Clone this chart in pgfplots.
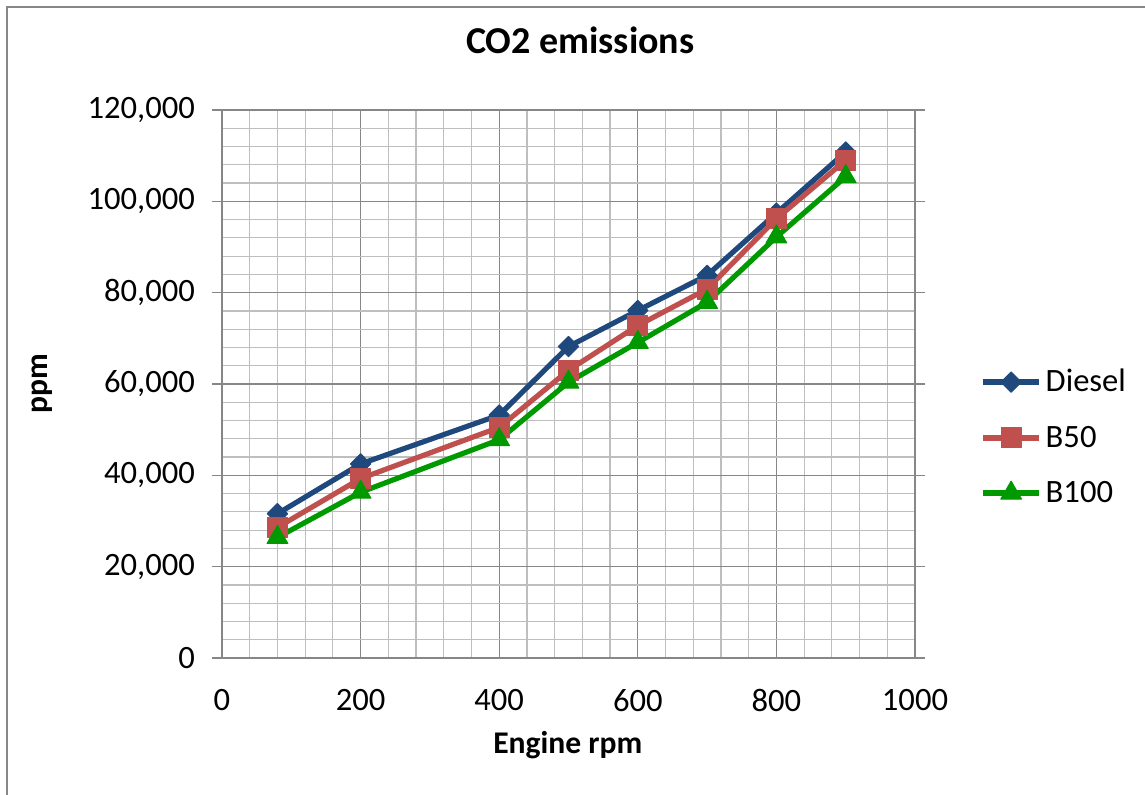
\documentclass[border=0pt]{standalone}
\usepackage{pgfplots}
\pgfplotsset{compat=1.18}
\usepackage{fontspec}
\setmainfont{Carlito}
\definecolor{dieselc}{HTML}{1F497D}
\definecolor{b50c}{HTML}{C0504D}
\definecolor{b100c}{HTML}{009900}
\definecolor{majgrid}{HTML}{878787}
\definecolor{mingrid}{HTML}{BEBEBE}
\begin{document}
\begin{tikzpicture}
\begin{axis}[
  at={(0,0)}, anchor=south west,
  scale only axis, width=346.5pt, height=274pt,
  xmin=0, xmax=1000, ymin=0, ymax=120000,
  xtick={0,200,400,600,800,1000}, ytick={0,20000,40000,60000,80000,100000,120000},
  xticklabels={0,200,400,600,800,1000},
  yticklabels={0,{20,000},{40,000},{60,000},{80,000},{100,000},{120,000}},
  minor x tick num=4, minor y tick num=4,
  grid=both,
  major grid style={color=majgrid, line width=0.6pt},
  minor grid style={color=mingrid, line width=0.6pt},
  axis line style={color=majgrid, line width=0.6pt},
  tick align=outside,
  xtick style={draw=none},
  ytick style={color=majgrid, line width=0.6pt},
  major tick length=5pt, minor tick length=0pt,
  scaled y ticks=false,
  yticklabel style={font=\fontsize{16.3}{19}\selectfont, xshift=-5pt},
  xticklabel style={font=\fontsize{16.3}{19}\selectfont, yshift=-7pt},
  title={CO2 emissions},
  title style={at={(axis description cs:0.517,1.106)}, anchor=center, font=\fontsize{19}{22}\selectfont\bfseries},
  xlabel={Engine rpm},
  xlabel style={at={(axis description cs:0.499,-0.1588)}, anchor=center, font=\fontsize{15.8}{18}\selectfont\bfseries},
  ylabel={ppm},
  ylabel style={at={(axis description cs:-0.2597,0.5)}, anchor=center, rotate=0, font=\fontsize{15.8}{18}\selectfont\bfseries},
  legend style={at={(axis description cs:1.094,0.535)}, anchor=north west, draw=none, fill=none,
    font=\fontsize{16.3}{19}\selectfont, row sep=11.5pt, inner sep=0pt},
  legend cell align=left,
  legend image code/.code={\draw[mark repeat=2,mark phase=2] plot coordinates {(0pt,0pt) (14pt,0pt) (28pt,0pt)};},
  every axis plot/.append style={line width=2.6pt, line join=round},
]
\addplot[color=dieselc, mark=square*, mark size=3.6pt, mark options={rotate=45, fill=dieselc, line width=0.5pt}]
  coordinates {(80,31600) (200,42500) (400,53200) (500,68200) (600,76100) (700,83800) (800,97400) (900,110800)};
\addlegendentry{Diesel}
\addplot[color=b50c, mark=square*, mark size=5pt, mark options={fill=b50c, line width=0.5pt}]
  coordinates {(80,28600) (200,39300) (400,50500) (500,63000) (600,72800) (700,80800) (800,96200) (900,109000)};
\addlegendentry{B50}
\addplot[color=b100c, mark=triangle*, mark size=6pt, mark options={fill=b100c, line width=0.5pt}]
  coordinates {(80,26400) (200,36300) (400,47800) (500,60400) (600,69100) (700,77900) (800,92200) (900,105400)};
\addlegendentry{B100}
\end{axis}
\draw[color=majgrid, line width=0.8pt] (-107.5pt,-90pt) -- (-107.5pt,325.5pt) -- (480pt,325.5pt);
\pgfresetboundingbox
\path[use as bounding box] (-111pt,-68pt) rectangle (461.5pt,329pt);
\end{tikzpicture}
\end{document}
